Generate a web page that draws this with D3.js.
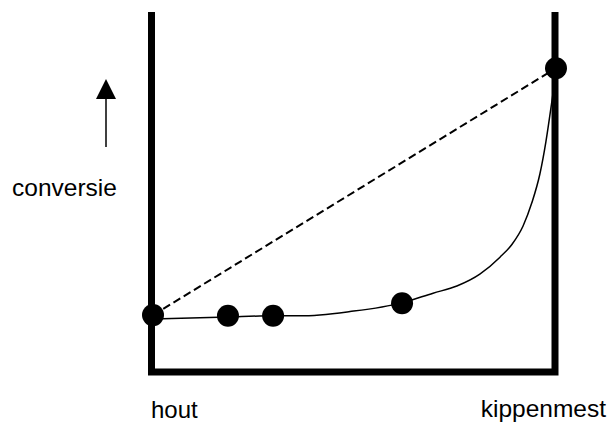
<!DOCTYPE html>
<html>
<head>
<meta charset="utf-8">
<script src="https://cdn.jsdelivr.net/npm/d3@7"></script>
<style>
  html, body { margin: 0; padding: 0; background: #fff; }
  svg { display: block; }
  text { font-family: "Liberation Sans", Arial, sans-serif; fill: #000; }
</style>
</head>
<body>
<script>
// ---- data (x: hout=0 .. kippenmest=100, y: conversie 0..100) ----
const categoryLabels = ["hout", "kippenmest"];
const yLabel = "conversie";
const pointX = [0, 18.6, 29.8, 61.8, 100];
const pointY = [15.8, 15.6, 15.6, 19.1, 84.4];
const curveX = [0, 18.6, 29.8, 36.5, 48.9, 61.8, 69.5, 75.4, 81.1, 86.1, 89.1, 91.8, 94.0, 96.0, 97.5, 98.7, 99.5, 100];
const curveY = [14.7, 15.3, 15.6, 15.6, 16.8, 19.2, 21.9, 23.9, 27.2, 31.9, 35.5, 40.5, 47.0, 55.0, 64.0, 73.0, 79.5, 84.4];
const dashedX = [0, 100];
const dashedY = [15.8, 84.4];

const W = 609, H = 425;
const svg = d3.select("body").append("svg").attr("width", W).attr("height", H);

const x = d3.scaleLinear().domain([0, 100]).range([153, 556]);
const y = d3.scaleLinear().domain([0, 100]).range([372, 12]);

// frame (open top): left axis, bottom axis, right axis
const [x0, x1] = x.range();
const [yb, yt] = y.range();
svg.append("path")
  .attr("d", `M${x0 - 1.5},${yt} V${yb} H${x1 - 1} V${yt}`)
  .attr("fill", "none")
  .attr("stroke", "#000")
  .attr("stroke-width", 7)
  .attr("stroke-linejoin", "miter");

// dashed straight line
const line = d3.line().x(d => x(d[0])).y(d => y(d[1]));
svg.append("path")
  .attr("d", line(d3.zip(dashedX, dashedY)))
  .attr("fill", "none")
  .attr("stroke", "#000")
  .attr("stroke-width", 2)
  .attr("stroke-dasharray", "8,4");

// smooth curve
const curve = d3.line().x(d => x(d[0])).y(d => y(d[1])).curve(d3.curveMonotoneX);
svg.append("path")
  .attr("d", curve(d3.zip(curveX, curveY)))
  .attr("fill", "none")
  .attr("stroke", "#000")
  .attr("stroke-width", 1.5);

// points
svg.selectAll("circle.pt").data(d3.zip(pointX, pointY)).join("circle")
  .attr("class", "pt")
  .attr("cx", d => x(d[0]))
  .attr("cy", d => y(d[1]))
  .attr("r", 11)
  .attr("fill", "#000");

// category labels
svg.append("text").attr("x", x(0) - 2).attr("y", 418).attr("font-size", 24).text(categoryLabels[0]);
svg.append("text").attr("x", x(100) + 50).attr("y", 417).attr("text-anchor", "end").attr("font-size", 24.5).text(categoryLabels[1]);

// y label with arrow
svg.append("text").attr("x", 12).attr("y", 196).attr("font-size", 24.5).text(yLabel);
svg.append("line").attr("x1", 106).attr("x2", 106).attr("y1", 147).attr("y2", 98)
  .attr("stroke", "#000").attr("stroke-width", 1.5);
svg.append("path").attr("d", "M106,79 L96,99 L116,99 Z").attr("fill", "#000");
</script>
</body>
</html>
